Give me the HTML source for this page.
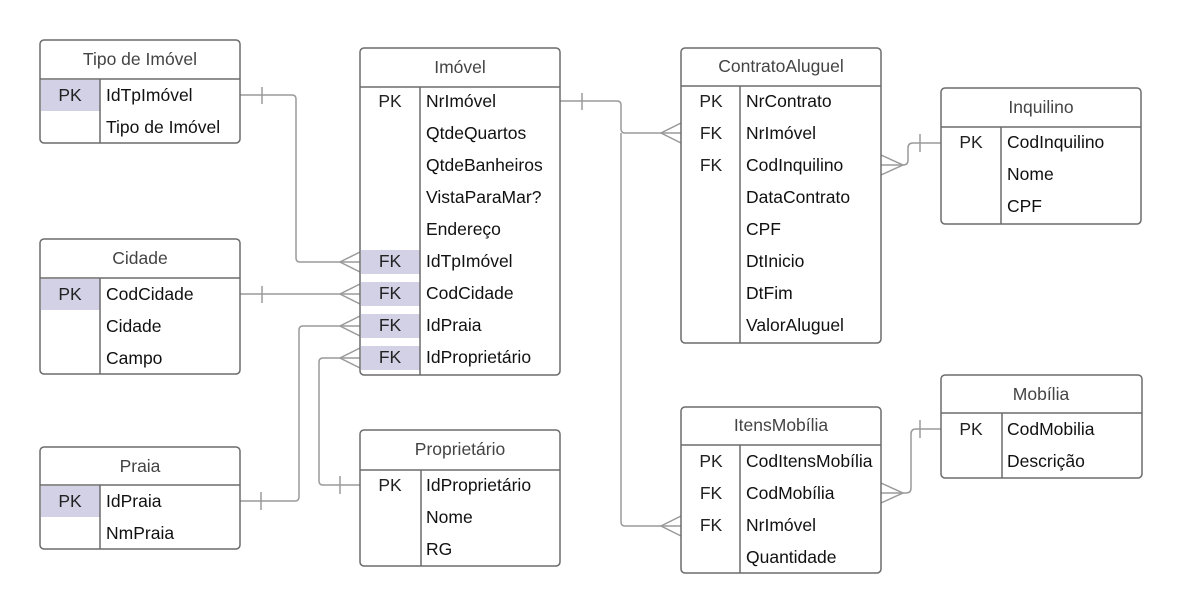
<!DOCTYPE html>
<html><head><meta charset="utf-8"><style>
html,body{margin:0;padding:0;background:#fff;}
svg{display:block}
text{font-family:"Liberation Sans",Arial,sans-serif;font-size:17.5px;fill:#111}
.h{fill:#444;text-anchor:middle}
.k{fill:#222;text-anchor:middle}
.b{fill:none;stroke:#6b6b6b;stroke-width:1.5}
.c{fill:none;stroke:#9a9a9a;stroke-width:1.5}
.hl{fill:#d3d1e6}
</style></head><body>
<svg width="1182" height="614" viewBox="0 0 1182 614">
<rect class="hl" x="41" y="80" width="59" height="31"/>
<rect class="hl" x="41" y="279" width="59" height="31"/>
<rect class="hl" x="41" y="486" width="59" height="31"/>
<rect class="hl" x="361" y="250" width="59" height="24"/>
<rect class="hl" x="361" y="282" width="59" height="24"/>
<rect class="hl" x="361" y="314" width="59" height="24"/>
<rect class="hl" x="361" y="346" width="59" height="24"/>

<g class="c">
<path d="M240 95 H292 Q296 95 296 99 V258 Q296 262 300 262 H360"/>
<path d="M262 87 V104"/>
<path d="M360 252 L340 262 L360 272"/>
<path d="M240 294 H360"/>
<path d="M262 286 V303"/>
<path d="M360 284 L340 294 L360 304"/>
<path d="M240 501 H295 Q299 501 299 497 V330 Q299 326 303 326 H360"/>
<path d="M261 492 V510"/>
<path d="M360 316 L340 326 L360 336"/>
<path d="M360 485 H323 Q319 485 319 481 V362 Q319 358 323 358 H360"/>
<path d="M340 476 V494"/>
<path d="M360 348 L340 358 L360 368"/>
<path d="M560 101 H617 Q621 101 621 105 V129 Q621 133 625 133 H681"/>
<path d="M582 93 V110"/>
<path d="M681 123 L661 133 L681 143"/>
<path d="M621 133 V522 Q621 526 625 526 H681"/>
<path d="M681 516 L661 526 L681 536"/>
<path d="M881 165 H903 Q908 165 908 160 V148 Q908 143 913 143 H941"/>
<path d="M920 134 V152"/>
<path d="M881 155 L903 165 L881 175"/>
<path d="M881 493 H906 Q911 493 911 488 V434 Q911 429 916 429 H941"/>
<path d="M920 420 V438"/>
<path d="M881 483 L903 493 L881 503"/>
</g>

<rect class="b" x="40" y="40" width="200" height="103" rx="4"/>
<path class="b" d="M40 79 H240 M100 79 V143"/>
<text class="h" x="140" y="65">Tipo de Imóvel</text>
<text class="k" x="70" y="101">PK</text><text x="106" y="101">IdTpImóvel</text>
<text x="106" y="133">Tipo de Imóvel</text>

<rect class="b" x="40" y="239" width="200" height="135" rx="4"/>
<path class="b" d="M40 278 H240 M100 278 V374"/>
<text class="h" x="140" y="264">Cidade</text>
<text class="k" x="70" y="300">PK</text><text x="106" y="300">CodCidade</text>
<text x="106" y="332">Cidade</text>
<text x="106" y="364">Campo</text>

<rect class="b" x="40" y="447" width="200" height="102" rx="4"/>
<path class="b" d="M40 485 H240 M100 485 V549"/>
<text class="h" x="140" y="472">Praia</text>
<text class="k" x="70" y="507">PK</text><text x="106" y="507">IdPraia</text>
<text x="106" y="539">NmPraia</text>

<rect class="b" x="360" y="48" width="200" height="327" rx="4"/>
<path class="b" d="M360 87 H560 M420 87 V375"/>
<text class="h" x="460" y="73">Imóvel</text>
<text class="k" x="390" y="107">PK</text><text x="426" y="107">NrImóvel</text>
<text x="426" y="139">QtdeQuartos</text>
<text x="426" y="171">QtdeBanheiros</text>
<text x="426" y="203">VistaParaMar?</text>
<text x="426" y="235">Endereço</text>
<text class="k" x="390" y="267">FK</text><text x="426" y="267">IdTpImóvel</text>
<text class="k" x="390" y="299">FK</text><text x="426" y="299">CodCidade</text>
<text class="k" x="390" y="331">FK</text><text x="426" y="331">IdPraia</text>
<text class="k" x="390" y="363">FK</text><text x="426" y="363">IdProprietário</text>

<rect class="b" x="360" y="430" width="200" height="136" rx="4"/>
<path class="b" d="M360 470 H560 M421 470 V566"/>
<text class="h" x="460" y="455">Proprietário</text>
<text class="k" x="390" y="491">PK</text><text x="426" y="491">IdProprietário</text>
<text x="426" y="523">Nome</text>
<text x="426" y="555">RG</text>

<rect class="b" x="681" y="48" width="200" height="295" rx="4"/>
<path class="b" d="M681 86 H881 M740 86 V343"/>
<text class="h" x="781" y="72">ContratoAluguel</text>
<text class="k" x="711" y="107">PK</text><text x="746" y="107">NrContrato</text>
<text class="k" x="711" y="139">FK</text><text x="746" y="139">NrImóvel</text>
<text class="k" x="711" y="171">FK</text><text x="746" y="171">CodInquilino</text>
<text x="746" y="203">DataContrato</text>
<text x="746" y="235">CPF</text>
<text x="746" y="267">DtInicio</text>
<text x="746" y="299">DtFim</text>
<text x="746" y="331">ValorAluguel</text>

<rect class="b" x="941" y="88" width="200" height="136" rx="4"/>
<path class="b" d="M941 127 H1141 M1001 127 V224"/>
<text class="h" x="1041" y="113">Inquilino</text>
<text class="k" x="971" y="148">PK</text><text x="1007" y="148">CodInquilino</text>
<text x="1007" y="180">Nome</text>
<text x="1007" y="212">CPF</text>

<rect class="b" x="681" y="407" width="200" height="166" rx="4"/>
<path class="b" d="M681 445 H881 M740 445 V573"/>
<text class="h" x="781" y="431">ItensMobília</text>
<text class="k" x="711" y="467">PK</text><text x="746" y="467">CodItensMobília</text>
<text class="k" x="711" y="499">FK</text><text x="746" y="499">CodMobília</text>
<text class="k" x="711" y="531">FK</text><text x="746" y="531">NrImóvel</text>
<text x="746" y="563">Quantidade</text>

<rect class="b" x="941" y="375" width="201" height="103" rx="4"/>
<path class="b" d="M941 413 H1142 M1002 413 V478"/>
<text class="h" x="1041" y="400">Mobília</text>
<text class="k" x="971" y="435">PK</text><text x="1007" y="435">CodMobilia</text>
<text x="1007" y="467">Descrição</text>
</svg>
</body></html>
